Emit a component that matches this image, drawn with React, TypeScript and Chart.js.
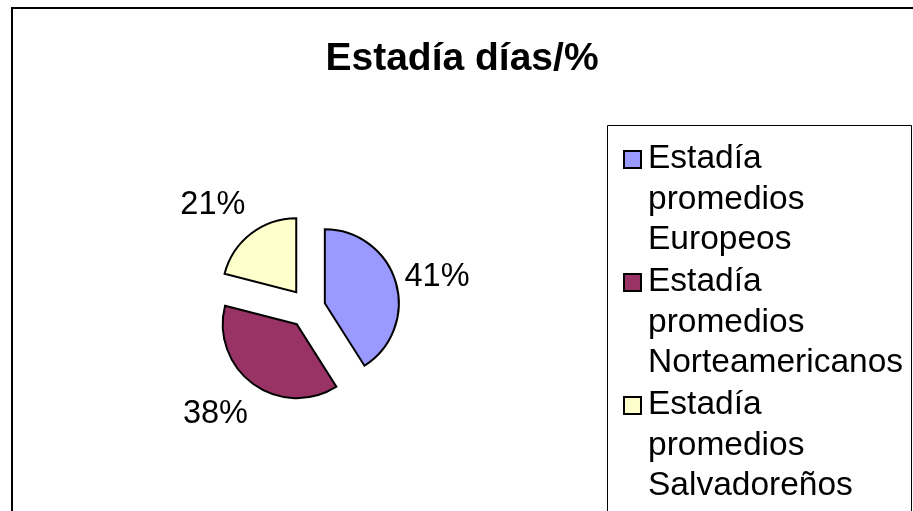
import React, { useEffect, useRef } from "react";
import { Chart, registerables } from "chart.js";

Chart.register(...registerables);

// ---- data ----
const TITLE = "Estadía días/%";
const categories = [
  "Estadía promedios Europeos",
  "Estadía promedios Norteamericanos",
  "Estadía promedios Salvadoreños",
];
const values = [41, 38, 21];
const colors = ["#9999FF", "#993366", "#FFFFCC"];
const explode = [17, 20, 20];

// ---- style constants ----
const FONT = '"Liberation Sans", Arial, Helvetica, sans-serif';
const LABEL_GAP = 9;
const LABEL_V_PUSH = 34;

const explodePlugin = {
  id: "explodeSlices",
  afterDatasetsUpdate(chart: any) {
    const meta = chart.getDatasetMeta(0);
    meta.data.forEach((arc: any, i: number) => {
      const mid = (arc.startAngle + arc.endAngle) / 2;
      const d = explode[i] ?? 0;
      arc.x += Math.cos(mid) * d;
      arc.y += Math.sin(mid) * d;
    });
  },
};

const framePlugin = {
  id: "frameTitleLegend",
  beforeDraw(chart: any) {
    const ctx = chart.ctx as CanvasRenderingContext2D;
    const W = chart.width;
    const H = chart.height;
    ctx.save();
    ctx.fillStyle = "#ffffff";
    ctx.fillRect(0, 0, W, H);
    // outer frame (continues beyond right/bottom)
    ctx.strokeStyle = "#000000";
    ctx.lineWidth = 2;
    ctx.beginPath();
    ctx.moveTo(W + 5, 8);
    ctx.lineTo(12, 8);
    ctx.lineTo(12, H + 5);
    ctx.stroke();
    ctx.restore();
  },
  afterDraw(chart: any) {
    const ctx = chart.ctx as CanvasRenderingContext2D;
    const H = chart.height;
    ctx.save();
    // title
    ctx.fillStyle = "#000000";
    ctx.font = `bold 39px ${FONT}`;
    ctx.textAlign = "center";
    ctx.textBaseline = "middle";
    ctx.fillText(TITLE, 462, 59);

    // legend box
    const lx = 607.5, ly = 125.5, lr = 911.5;
    ctx.strokeStyle = "#000000";
    ctx.lineWidth = 1;
    ctx.beginPath();
    ctx.moveTo(lx, H + 5);
    ctx.lineTo(lx, ly);
    ctx.lineTo(lr, ly);
    ctx.lineTo(lr, H + 5);
    ctx.stroke();

    const labels: string[] = chart.data.labels;
    const bg: string[] = chart.data.datasets[0].backgroundColor;
    ctx.font = `33.5px ${FONT}`;
    ctx.textAlign = "left";
    ctx.textBaseline = "middle";
    const textX = 648;
    const maxW = lr - textX;
    let y = 159;
    labels.forEach((lab, i) => {
      const words = lab.split(" ");
      const lines: string[] = [];
      let cur = "";
      words.forEach((w) => {
        const t = cur ? cur + " " + w : w;
        if (cur && ctx.measureText(t).width > maxW) {
          lines.push(cur);
          cur = w;
        } else cur = t;
      });
      if (cur) lines.push(cur);
      ctx.fillStyle = bg[i];
      ctx.fillRect(624, y - 8, 17, 17);
      ctx.strokeStyle = "#000000";
      ctx.lineWidth = 2;
      ctx.strokeRect(624, y - 8, 17, 17);
      ctx.fillStyle = "#000000";
      lines.forEach((ln, j) => {
        ctx.fillText(ln, textX, y + j * 40.5);
      });
      y += lines.length * 40.5 + 1.5;
    });
    ctx.restore();
  },
};

const pctPlugin = {
  id: "pctLabels",
  afterDatasetsDraw(chart: any) {
    const ctx = chart.ctx as CanvasRenderingContext2D;
    const meta = chart.getDatasetMeta(0);
    const data: number[] = chart.data.datasets[0].data;
    const total = data.reduce((a, b) => a + b, 0);
    ctx.save();
    ctx.font = `32.5px ${FONT}`;
    ctx.fillStyle = "#000000";
    ctx.textBaseline = "middle";
    meta.data.forEach((arc: any, i: number) => {
      const mid = (arc.startAngle + arc.endAngle) / 2;
      const dx = Math.cos(mid);
      const dy = Math.sin(mid);
      const r = arc.outerRadius + LABEL_GAP;
      const ax = arc.x + dx * r;
      const ay = arc.y + dy * r + dy * Math.abs(dy) * LABEL_V_PUSH;
      ctx.textAlign = dx >= 0 ? "left" : "right";
      const txt = Math.round((data[i] / total) * 100) + "%";
      ctx.fillText(txt, ax, ay);
    });
    ctx.restore();
  },
};

export default function App() {
  const ref = useRef<HTMLCanvasElement | null>(null);
  useEffect(() => {
    if (!ref.current) return;
    const chart = new Chart(ref.current, {
      type: "pie",
      data: {
        labels: categories,
        datasets: [
          {
            data: values,
            backgroundColor: colors,
            borderColor: "#000000",
            borderWidth: 2,
            borderJoinStyle: "miter",
          } as any,
        ],
      },
      options: {
        animation: false,
        responsive: false,
        radius: 74,
        layout: { padding: { left: 100, right: 396, top: 150, bottom: 45 } },
        plugins: {
          legend: { display: false },
          title: { display: false },
          tooltip: { enabled: false },
        },
      } as any,
      plugins: [explodePlugin, framePlugin, pctPlugin],
    });
    return () => chart.destroy();
  }, []);
  return (
    <div style={{ position: "fixed", left: 0, top: 0, width: 913, height: 511, background: "#fff" }}>
      <canvas ref={ref} width={913} height={511} style={{ display: "block", width: 913, height: 511 }} />
    </div>
  );
}
